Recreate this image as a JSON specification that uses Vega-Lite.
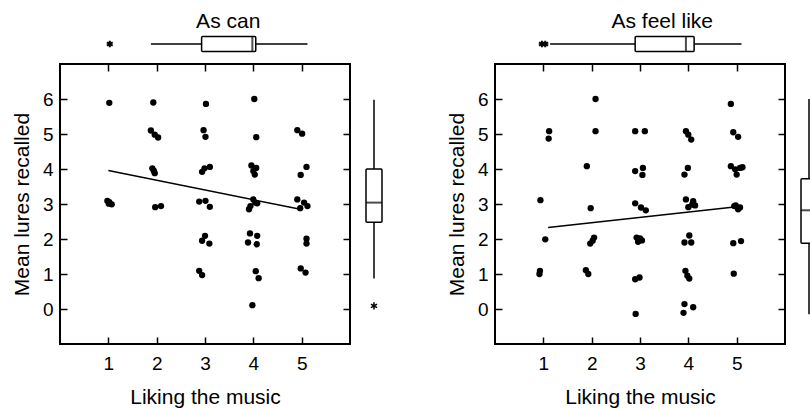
{
  "$schema": "https://vega.github.io/schema/vega-lite/v6.json",
  "padding": {"left": 10, "top": 11, "right": 0, "bottom": 0},
  "config": {
    "font": "Liberation Sans",
    "view": {"stroke": null},
    "axis": {"labelFont": "Liberation Sans", "titleFont": "Liberation Sans", "labelFontSize": 19, "titleFontSize": 21, "labelColor": "black", "titleColor": "black", "titleFontWeight": "normal", "grid": false, "domain": false, "tickColor": "black", "tickWidth": 1.5, "tickSize": -7, "labelPadding": 14},
    "title": {"fontSize": 21, "fontWeight": "normal", "font": "Liberation Sans", "color": "black"}
  },
  "datasets": {
    "pts": [
      {"panel":"can","liking":1.02,"lures":5.89},{"panel":"can","liking":0.98,"lures":3.09},{"panel":"can","liking":1.01,"lures":3.01},{"panel":"can","liking":1.07,"lures":2.99},{"panel":"can","liking":1.02,"lures":3.05},
      {"panel":"can","liking":1.93,"lures":5.90},{"panel":"can","liking":1.88,"lures":5.10},{"panel":"can","liking":1.96,"lures":4.98},{"panel":"can","liking":2.03,"lures":4.90},{"panel":"can","liking":1.91,"lures":4.02},{"panel":"can","liking":1.94,"lures":3.95},{"panel":"can","liking":1.96,"lures":3.88},{"panel":"can","liking":1.97,"lures":2.91},{"panel":"can","liking":2.09,"lures":2.94},
      {"panel":"can","liking":3.02,"lures":5.86},{"panel":"can","liking":2.97,"lures":5.11},{"panel":"can","liking":3.01,"lures":4.92},{"panel":"can","liking":2.94,"lures":3.92},{"panel":"can","liking":2.99,"lures":4.02},{"panel":"can","liking":3.10,"lures":4.06},{"panel":"can","liking":2.88,"lures":3.07},{"panel":"can","liking":3.01,"lures":3.09},{"panel":"can","liking":3.10,"lures":2.92},{"panel":"can","liking":3.00,"lures":2.09},{"panel":"can","liking":2.94,"lures":1.95},{"panel":"can","liking":3.09,"lures":1.87},{"panel":"can","liking":2.88,"lures":1.09},{"panel":"can","liking":2.94,"lures":0.97},
      {"panel":"can","liking":4.02,"lures":6.00},{"panel":"can","liking":4.06,"lures":4.91},{"panel":"can","liking":3.96,"lures":4.10},{"panel":"can","liking":4.06,"lures":4.03},{"panel":"can","liking":4.00,"lures":3.94},{"panel":"can","liking":4.03,"lures":3.84},{"panel":"can","liking":4.00,"lures":3.13},{"panel":"can","liking":4.04,"lures":3.04},{"panel":"can","liking":3.94,"lures":2.94},{"panel":"can","liking":3.91,"lures":2.85},{"panel":"can","liking":4.08,"lures":3.02},{"panel":"can","liking":3.93,"lures":2.16},{"panel":"can","liking":4.08,"lures":2.09},{"panel":"can","liking":3.89,"lures":1.90},{"panel":"can","liking":4.07,"lures":1.85},{"panel":"can","liking":4.05,"lures":1.08},{"panel":"can","liking":4.11,"lures":0.88},{"panel":"can","liking":3.98,"lures":0.11},
      {"panel":"can","liking":4.91,"lures":5.11},{"panel":"can","liking":5.01,"lures":5.01},{"panel":"can","liking":5.10,"lures":4.06},{"panel":"can","liking":4.98,"lures":3.83},{"panel":"can","liking":4.91,"lures":3.13},{"panel":"can","liking":5.05,"lures":3.04},{"panel":"can","liking":5.12,"lures":2.94},{"panel":"can","liking":4.97,"lures":2.88},{"panel":"can","liking":5.10,"lures":2.01},{"panel":"can","liking":5.10,"lures":1.87},{"panel":"can","liking":4.98,"lures":1.16},{"panel":"can","liking":5.08,"lures":1.04},
      {"panel":"feel","liking":0.94,"lures":3.11},{"panel":"feel","liking":1.12,"lures":5.08},{"panel":"feel","liking":1.11,"lures":4.87},{"panel":"feel","liking":1.04,"lures":1.99},{"panel":"feel","liking":0.93,"lures":1.09},{"panel":"feel","liking":0.92,"lures":1.00},
      {"panel":"feel","liking":2.08,"lures":6.00},{"panel":"feel","liking":2.08,"lures":5.08},{"panel":"feel","liking":1.90,"lures":4.08},{"panel":"feel","liking":1.98,"lures":2.88},{"panel":"feel","liking":2.05,"lures":2.04},{"panel":"feel","liking":2.02,"lures":1.95},{"panel":"feel","liking":1.97,"lures":1.87},{"panel":"feel","liking":1.88,"lures":1.11},{"panel":"feel","liking":1.93,"lures":1.00},
      {"panel":"feel","liking":2.90,"lures":5.08},{"panel":"feel","liking":3.10,"lures":5.08},{"panel":"feel","liking":2.90,"lures":3.94},{"panel":"feel","liking":3.06,"lures":4.03},{"panel":"feel","liking":3.05,"lures":3.83},{"panel":"feel","liking":2.90,"lures":3.02},{"panel":"feel","liking":3.02,"lures":2.90},{"panel":"feel","liking":3.12,"lures":2.82},{"panel":"feel","liking":2.93,"lures":2.04},{"panel":"feel","liking":3.00,"lures":2.02},{"panel":"feel","liking":3.04,"lures":1.96},{"panel":"feel","liking":2.96,"lures":1.92},{"panel":"feel","liking":2.90,"lures":0.85},{"panel":"feel","liking":2.99,"lures":0.90},{"panel":"feel","liking":2.91,"lures":-0.14},
      {"panel":"feel","liking":3.95,"lures":5.08},{"panel":"feel","liking":4.00,"lures":4.98},{"panel":"feel","liking":4.06,"lures":4.84},{"panel":"feel","liking":3.99,"lures":4.03},{"panel":"feel","liking":3.92,"lures":3.84},{"panel":"feel","liking":3.95,"lures":3.13},{"panel":"feel","liking":4.10,"lures":3.08},{"panel":"feel","liking":4.14,"lures":2.96},{"panel":"feel","liking":4.00,"lures":2.91},{"panel":"feel","liking":4.08,"lures":2.98},{"panel":"feel","liking":4.02,"lures":2.10},{"panel":"feel","liking":3.92,"lures":1.90},{"panel":"feel","liking":4.06,"lures":1.90},{"panel":"feel","liking":3.94,"lures":1.09},{"panel":"feel","liking":3.98,"lures":0.95},{"panel":"feel","liking":4.02,"lures":0.87},{"panel":"feel","liking":3.92,"lures":0.14},{"panel":"feel","liking":4.10,"lures":0.05},{"panel":"feel","liking":3.90,"lures":-0.11},
      {"panel":"feel","liking":4.88,"lures":5.86},{"panel":"feel","liking":4.93,"lures":5.05},{"panel":"feel","liking":5.03,"lures":4.92},{"panel":"feel","liking":4.88,"lures":4.08},{"panel":"feel","liking":4.97,"lures":3.99},{"panel":"feel","liking":5.07,"lures":4.03},{"panel":"feel","liking":5.00,"lures":3.84},{"panel":"feel","liking":5.12,"lures":4.05},{"panel":"feel","liking":4.95,"lures":2.94},{"panel":"feel","liking":5.07,"lures":2.90},{"panel":"feel","liking":5.03,"lures":2.85},{"panel":"feel","liking":4.98,"lures":2.96},{"panel":"feel","liking":4.93,"lures":1.88},{"panel":"feel","liking":5.09,"lures":1.94},{"panel":"feel","liking":4.94,"lures":1.01}
    ],
    "fit": [
      {"panel":"can","liking":1.0,"lures":3.96},{"panel":"can","liking":5.0,"lures":2.84},
      {"panel":"feel","liking":1.1,"lures":2.33},{"panel":"feel","liking":5.0,"lures":2.92}
    ],
    "box": [
      {"panel":"can","dim":"x","lo":1.88,"q1":2.93,"med":3.98,"q3":4.05,"hi":5.12},
      {"panel":"can","dim":"y","lo":0.87,"q1":2.48,"med":3.04,"q3":4.0,"hi":5.98},
      {"panel":"feel","dim":"x","lo":1.14,"q1":2.90,"med":3.95,"q3":4.12,"hi":5.10},
      {"panel":"feel","dim":"y","lo":-0.15,"q1":1.88,"med":2.82,"q3":3.72,"hi":6.0}
    ],
    "out": [
      {"panel":"can","dim":"x","value":1.03},
      {"panel":"can","dim":"y","value":0.09},
      {"panel":"feel","dim":"x","value":0.97},
      {"panel":"feel","dim":"x","value":1.04}
    ]
  },
  "spacing": 51,
  "hconcat": [
    {
      "title": {"text": "As can", "anchor": "middle", "offset": 2, "dx": 26},
      "spacing": 8,
      "vconcat": [
        {
          "width": 290, "height": 20,
          "layer": [
            {"data": {"name": "box"}, "transform": [{"filter": "datum.panel == 'can' && datum.dim == 'x'"}],
             "mark": {"type": "rule", "color": "black", "strokeWidth": 1.5},
             "encoding": {"x": {"field": "lo", "type": "quantitative", "scale": {"domain": [0, 6], "nice": false, "zero": false}, "axis": null}, "x2": {"field": "q1"}}},
            {"data": {"name": "box"}, "transform": [{"filter": "datum.panel == 'can' && datum.dim == 'x'"}],
             "mark": {"type": "rule", "color": "black", "strokeWidth": 1.5},
             "encoding": {"x": {"field": "q3", "type": "quantitative", "scale": {"domain": [0, 6], "nice": false, "zero": false}, "axis": null}, "x2": {"field": "hi"}}},
            {"data": {"name": "box"}, "transform": [{"filter": "datum.panel == 'can' && datum.dim == 'x'"}],
             "mark": {"type": "bar", "height": 15, "fill": "white", "stroke": "black", "strokeWidth": 1.5, "cornerRadius": 1, "orient": "horizontal"},
             "encoding": {"x": {"field": "q1", "type": "quantitative", "scale": {"domain": [0, 6], "nice": false, "zero": false}, "axis": null}, "x2": {"field": "q3"}}},
            {"data": {"name": "box"}, "transform": [{"filter": "datum.panel == 'can' && datum.dim == 'x'"}],
             "mark": {"type": "tick", "orient": "vertical", "size": 15, "thickness": 2, "color": "black"},
             "encoding": {"x": {"field": "med", "type": "quantitative", "scale": {"domain": [0, 6], "nice": false, "zero": false}, "axis": null}}},
            {"data": {"name": "out"}, "transform": [{"filter": "datum.panel == 'can' && datum.dim == 'x'"}],
             "mark": {"type": "point", "shape": "M0,-1L0,1M-0.87,-0.5L0.87,0.5M-0.87,0.5L0.87,-0.5", "filled": false, "stroke": "black", "strokeWidth": 2, "size": 45, "opacity": 1},
             "encoding": {"x": {"field": "value", "type": "quantitative", "scale": {"domain": [0, 6], "nice": false, "zero": false}, "axis": null}}}
          ]
        },
        {
          "spacing": 2,
          "hconcat": [
            {
              "width": 290, "height": 280,
              "view": {"stroke": "black", "strokeWidth": 2},
              "layer": [
                {"data": {"name": "pts"}, "transform": [{"filter": "datum.panel == 'can'"}],
                 "mark": {"type": "circle", "size": 40, "color": "black", "opacity": 1},
                 "encoding": {
                   "x": {"field": "liking", "type": "quantitative", "scale": {"domain": [0, 6], "nice": false, "zero": false}, "axis": {"orient": "bottom", "values": [1, 2, 3, 4, 5], "title": "Liking the music", "labelPadding": 17, "titlePadding": 13}},
                   "y": {"field": "lures", "type": "quantitative", "scale": {"domain": [-1, 7], "nice": false, "zero": false}, "axis": {"orient": "left", "values": [0, 1, 2, 3, 4, 5, 6], "title": "Mean lures recalled", "titlePadding": 10}}
                 }},
                {"data": {"name": "fit"}, "transform": [{"filter": "datum.panel == 'can'"}],
                 "mark": {"type": "line", "color": "black", "strokeWidth": 1.5},
                 "encoding": {
                   "x": {"field": "liking", "type": "quantitative", "scale": {"domain": [0, 6], "nice": false, "zero": false}, "axis": {"orient": "top", "values": [1, 2, 3, 4, 5], "labels": false, "title": null}},
                   "y": {"field": "lures", "type": "quantitative", "scale": {"domain": [-1, 7], "nice": false, "zero": false}, "axis": {"orient": "right", "values": [0, 1, 2, 3, 4, 5, 6], "labels": false, "title": null}}
                 }}
              ],
              "resolve": {"axis": {"x": "independent", "y": "independent"}}
            },
            {
              "width": 40, "height": 280,
              "layer": [
                {"data": {"name": "box"}, "transform": [{"filter": "datum.panel == 'can' && datum.dim == 'y'"}],
                 "mark": {"type": "rule", "color": "black", "strokeWidth": 1.5},
                 "encoding": {"y": {"field": "lo", "type": "quantitative", "scale": {"domain": [-1, 7], "nice": false, "zero": false}, "axis": null}, "y2": {"field": "q1"}}},
                {"data": {"name": "box"}, "transform": [{"filter": "datum.panel == 'can' && datum.dim == 'y'"}],
                 "mark": {"type": "rule", "color": "black", "strokeWidth": 1.5},
                 "encoding": {"y": {"field": "q3", "type": "quantitative", "scale": {"domain": [-1, 7], "nice": false, "zero": false}, "axis": null}, "y2": {"field": "hi"}}},
                {"data": {"name": "box"}, "transform": [{"filter": "datum.panel == 'can' && datum.dim == 'y'"}],
                 "mark": {"type": "bar", "width": 16, "fill": "white", "stroke": "black", "strokeWidth": 1.5, "cornerRadius": 1, "orient": "vertical"},
                 "encoding": {"y": {"field": "q1", "type": "quantitative", "scale": {"domain": [-1, 7], "nice": false, "zero": false}, "axis": null}, "y2": {"field": "q3"}}},
                {"data": {"name": "box"}, "transform": [{"filter": "datum.panel == 'can' && datum.dim == 'y'"}],
                 "mark": {"type": "tick", "orient": "horizontal", "size": 16, "thickness": 2, "color": "black"},
                 "encoding": {"y": {"field": "med", "type": "quantitative", "scale": {"domain": [-1, 7], "nice": false, "zero": false}, "axis": null}}},
                {"data": {"name": "out"}, "transform": [{"filter": "datum.panel == 'can' && datum.dim == 'y'"}],
                 "mark": {"type": "point", "shape": "M0,-1L0,1M-0.87,-0.5L0.87,0.5M-0.87,0.5L0.87,-0.5", "filled": false, "stroke": "black", "strokeWidth": 1.5, "size": 50, "opacity": 1},
                 "encoding": {"y": {"field": "value", "type": "quantitative", "scale": {"domain": [-1, 7], "nice": false, "zero": false}, "axis": null}}}
              ]
            }
          ]
        }
      ]
    },
    {
      "title": {"text": "As feel like", "anchor": "middle", "offset": 2, "dx": 25},
      "spacing": 8,
      "vconcat": [
        {
          "width": 290, "height": 20,
          "layer": [
            {"data": {"name": "box"}, "transform": [{"filter": "datum.panel == 'feel' && datum.dim == 'x'"}],
             "mark": {"type": "rule", "color": "black", "strokeWidth": 1.5},
             "encoding": {"x": {"field": "lo", "type": "quantitative", "scale": {"domain": [0, 6], "nice": false, "zero": false}, "axis": null}, "x2": {"field": "q1"}}},
            {"data": {"name": "box"}, "transform": [{"filter": "datum.panel == 'feel' && datum.dim == 'x'"}],
             "mark": {"type": "rule", "color": "black", "strokeWidth": 1.5},
             "encoding": {"x": {"field": "q3", "type": "quantitative", "scale": {"domain": [0, 6], "nice": false, "zero": false}, "axis": null}, "x2": {"field": "hi"}}},
            {"data": {"name": "box"}, "transform": [{"filter": "datum.panel == 'feel' && datum.dim == 'x'"}],
             "mark": {"type": "bar", "height": 15, "fill": "white", "stroke": "black", "strokeWidth": 1.5, "cornerRadius": 1, "orient": "horizontal"},
             "encoding": {"x": {"field": "q1", "type": "quantitative", "scale": {"domain": [0, 6], "nice": false, "zero": false}, "axis": null}, "x2": {"field": "q3"}}},
            {"data": {"name": "box"}, "transform": [{"filter": "datum.panel == 'feel' && datum.dim == 'x'"}],
             "mark": {"type": "tick", "orient": "vertical", "size": 15, "thickness": 2, "color": "black"},
             "encoding": {"x": {"field": "med", "type": "quantitative", "scale": {"domain": [0, 6], "nice": false, "zero": false}, "axis": null}}},
            {"data": {"name": "out"}, "transform": [{"filter": "datum.panel == 'feel' && datum.dim == 'x'"}],
             "mark": {"type": "point", "shape": "M0,-1L0,1M-0.87,-0.5L0.87,0.5M-0.87,0.5L0.87,-0.5", "filled": false, "stroke": "black", "strokeWidth": 2, "size": 45, "opacity": 1},
             "encoding": {"x": {"field": "value", "type": "quantitative", "scale": {"domain": [0, 6], "nice": false, "zero": false}, "axis": null}}}
          ]
        },
        {
          "spacing": 2,
          "hconcat": [
            {
              "width": 290, "height": 280,
              "view": {"stroke": "black", "strokeWidth": 2},
              "layer": [
                {"data": {"name": "pts"}, "transform": [{"filter": "datum.panel == 'feel'"}],
                 "mark": {"type": "circle", "size": 40, "color": "black", "opacity": 1},
                 "encoding": {
                   "x": {"field": "liking", "type": "quantitative", "scale": {"domain": [0, 6], "nice": false, "zero": false}, "axis": {"orient": "bottom", "values": [1, 2, 3, 4, 5], "title": "Liking the music", "labelPadding": 17, "titlePadding": 13}},
                   "y": {"field": "lures", "type": "quantitative", "scale": {"domain": [-1, 7], "nice": false, "zero": false}, "axis": {"orient": "left", "values": [0, 1, 2, 3, 4, 5, 6], "title": "Mean lures recalled", "titlePadding": 10}}
                 }},
                {"data": {"name": "fit"}, "transform": [{"filter": "datum.panel == 'feel'"}],
                 "mark": {"type": "line", "color": "black", "strokeWidth": 1.5},
                 "encoding": {
                   "x": {"field": "liking", "type": "quantitative", "scale": {"domain": [0, 6], "nice": false, "zero": false}, "axis": {"orient": "top", "values": [1, 2, 3, 4, 5], "labels": false, "title": null}},
                   "y": {"field": "lures", "type": "quantitative", "scale": {"domain": [-1, 7], "nice": false, "zero": false}, "axis": {"orient": "right", "values": [0, 1, 2, 3, 4, 5, 6], "labels": false, "title": null}}
                 }}
              ],
              "resolve": {"axis": {"x": "independent", "y": "independent"}}
            },
            {
              "width": 40, "height": 280,
              "layer": [
                {"data": {"name": "box"}, "transform": [{"filter": "datum.panel == 'feel' && datum.dim == 'y'"}],
                 "mark": {"type": "rule", "color": "black", "strokeWidth": 1.5},
                 "encoding": {"y": {"field": "lo", "type": "quantitative", "scale": {"domain": [-1, 7], "nice": false, "zero": false}, "axis": null}, "y2": {"field": "q1"}}},
                {"data": {"name": "box"}, "transform": [{"filter": "datum.panel == 'feel' && datum.dim == 'y'"}],
                 "mark": {"type": "rule", "color": "black", "strokeWidth": 1.5},
                 "encoding": {"y": {"field": "q3", "type": "quantitative", "scale": {"domain": [-1, 7], "nice": false, "zero": false}, "axis": null}, "y2": {"field": "hi"}}},
                {"data": {"name": "box"}, "transform": [{"filter": "datum.panel == 'feel' && datum.dim == 'y'"}],
                 "mark": {"type": "bar", "width": 16, "fill": "white", "stroke": "black", "strokeWidth": 1.5, "cornerRadius": 1, "orient": "vertical"},
                 "encoding": {"y": {"field": "q1", "type": "quantitative", "scale": {"domain": [-1, 7], "nice": false, "zero": false}, "axis": null}, "y2": {"field": "q3"}}},
                {"data": {"name": "box"}, "transform": [{"filter": "datum.panel == 'feel' && datum.dim == 'y'"}],
                 "mark": {"type": "tick", "orient": "horizontal", "size": 16, "thickness": 2, "color": "black"},
                 "encoding": {"y": {"field": "med", "type": "quantitative", "scale": {"domain": [-1, 7], "nice": false, "zero": false}, "axis": null}}}
              ]
            }
          ]
        }
      ]
    }
  ]
}
